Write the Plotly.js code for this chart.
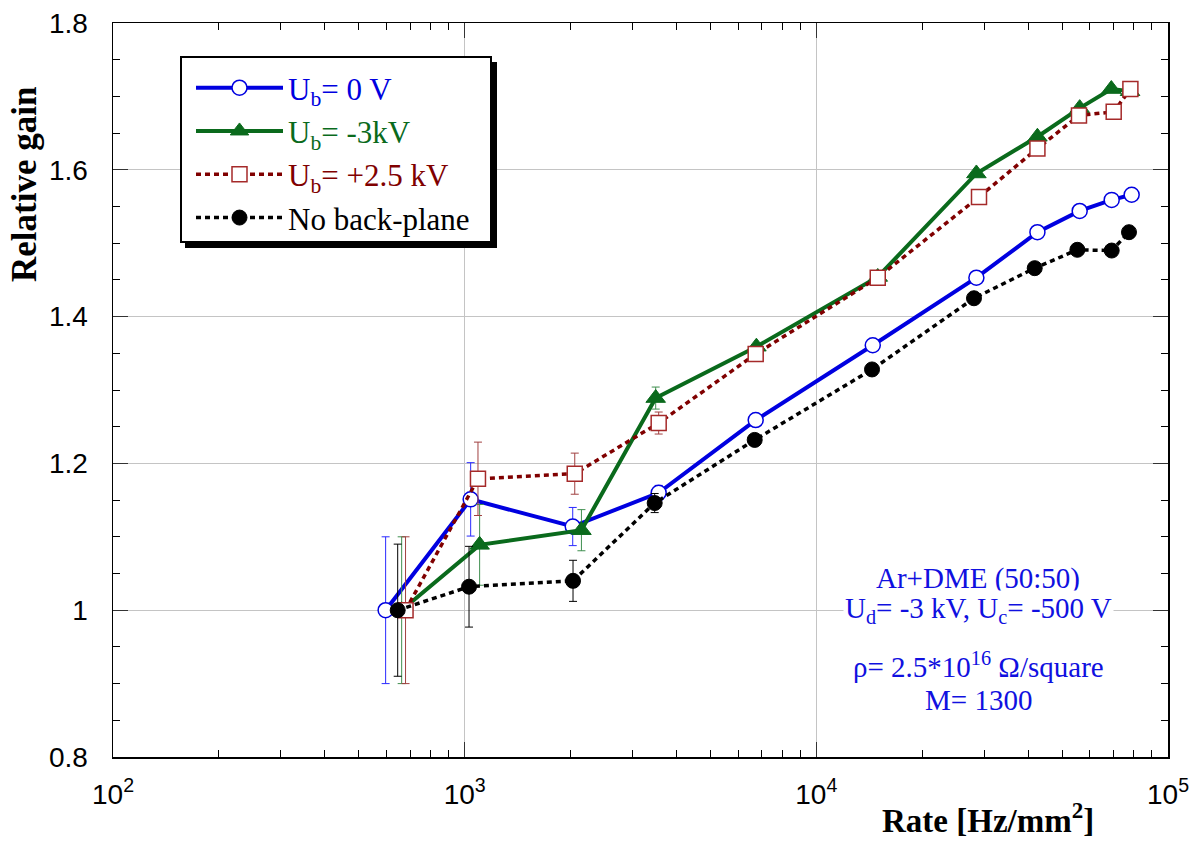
<!DOCTYPE html>
<html>
<head>
<meta charset="utf-8">
<script src="https://cdn.plot.ly/plotly-3.0.1.min.js"></script>
<style>html,body{margin:0;padding:0;background:#fff;}#chart{width:1204px;height:847px;}</style>
</head>
<body>
<div id="chart"></div>
<script>
// ---- data ----
const seriesNames = [
  'U<sub>b</sub>= 0 V',
  'U<sub>b</sub>= -3kV',
  'U<sub>b</sub>= +2.5 kV',
  'No back-plane'
];
const rateB0   = [596, 1040, 2029, 3562, 6723, 14470, 28520, 42530, 56090, 69170, 78830];
const gainB0   = [1.000, 1.151, 1.114, 1.160, 1.259, 1.361, 1.453, 1.515, 1.544, 1.559, 1.566];
const errB0    = [0.10, 0.05, 0.026, 0.01, 0, 0, 0, 0, 0, 0, 0];

const rateBm3  = [662, 1103, 2148, 3493, 6754, 14950, 28520, 42530, 56090, 69000, 78000];
const gainBm3  = [1.000, 1.089, 1.109, 1.289, 1.359, 1.454, 1.595, 1.645, 1.684, 1.710, 1.707];
const errBm3   = [0.10, 0.055, 0.028, 0.015, 0, 0, 0, 0, 0, 0, 0];

const rateBp25 = [679, 1091, 2056, 3562, 6723, 14950, 29010, 42530, 55830, 70080, 78170];
const gainBp25 = [1.000, 1.179, 1.186, 1.255, 1.349, 1.453, 1.563, 1.629, 1.674, 1.679, 1.710];
const errBp25  = [0.10, 0.05, 0.028, 0.015, 0, 0, 0, 0, 0, 0, 0];

const rateNoBP = [645, 1029, 2033, 3470, 6679, 14400, 28070, 41780, 55240, 69170, 77460];
const gainNoBP = [1.000, 1.032, 1.040, 1.146, 1.232, 1.328, 1.425, 1.466, 1.491, 1.490, 1.515];
const errNoBP  = [0.09, 0.055, 0.028, 0.013, 0, 0, 0, 0, 0, 0, 0];

const xTickVals  = [100, 1000, 10000, 100000];
const xTickText  = ['10<sup>2</sup>', '10<sup>3</sup>', '10<sup>4</sup>', '10<sup>5</sup>'];
const xMinorVals = [200,300,400,500,600,700,800,900,2000,3000,4000,5000,6000,7000,8000,9000,20000,30000,40000,50000,60000,70000,80000,90000];

const noteLines = [
  'Ar+DME (50:50)',
  'U<sub>d</sub>= -3 kV, U<sub>c</sub>= -500 V',
  'ρ= 2.5*10<sup>16</sup> Ω/square',
  'M= 1300'
];

// ---- styling ----
const BLUE = '#0000e0', GREEN = '#0a6a1c', RED = '#800000', REDM = '#a52a2a', BLACK = '#000000';
const serif = 'Liberation Serif, Times New Roman, serif';
const sans = 'Liberation Sans, Arial, sans-serif';

function lbl(txt, col) { return '<span style="color:' + col + '">' + txt + '</span>'; }

const traces = [
  {
    x: rateB0, y: gainB0, name: lbl(seriesNames[0], BLUE), type: 'scatter', mode: 'lines+markers',
    line: {color: BLUE, width: 4},
    marker: {symbol: 'circle', size: 15, color: '#ffffff', line: {color: BLUE, width: 1.5}},
    error_y: {type: 'data', array: errB0, visible: true, color: '#2a2aff', thickness: 1, width: 4}
  },
  {
    x: rateBm3, y: gainBm3, name: lbl(seriesNames[1], GREEN), type: 'scatter', mode: 'lines+markers',
    line: {color: GREEN, width: 4},
    marker: {symbol: 'triangle-up', size: 17, color: GREEN, line: {color: GREEN, width: 1}},
    error_y: {type: 'data', array: errBm3, visible: true, color: '#3f8f4f', thickness: 1, width: 4}
  },
  {
    x: rateBp25, y: gainBp25, name: lbl(seriesNames[2], RED), type: 'scatter', mode: 'lines+markers',
    line: {color: RED, width: 3.5, dash: '5px,4px'},
    marker: {symbol: 'square', size: 15, color: '#ffffff', line: {color: REDM, width: 1.5}},
    error_y: {type: 'data', array: errBp25, visible: true, color: '#a04040', thickness: 1, width: 4}
  },
  {
    x: rateNoBP, y: gainNoBP, name: lbl(seriesNames[3], BLACK), type: 'scatter', mode: 'lines+markers',
    line: {color: BLACK, width: 3.5, dash: '5px,4px'},
    marker: {symbol: 'circle', size: 15, color: BLACK, line: {color: BLACK, width: 1}},
    error_y: {type: 'data', array: errNoBP, visible: true, color: '#000000', thickness: 1, width: 4}
  }
];

// pixel -> paper helpers (plot area 113..1168 x, 23..757 y)
const L = 113, R = 1168, T = 23, B = 757;
const px = v => (v - L) / (R - L);
const py = v => (B - v) / (B - T);

const layout = {
  width: 1204, height: 847,
  margin: {l: L, r: 1204 - R, t: T, b: 847 - B, pad: 0},
  paper_bgcolor: '#ffffff', plot_bgcolor: '#ffffff',
  showlegend: true,
  xaxis: {
    type: 'log', range: [2, 5],
    tickmode: 'array', tickvals: xTickVals, ticktext: xTickText,
    ticks: 'inside', ticklen: 15, tickwidth: 1, tickcolor: '#333333',
    showline: true, linecolor: '#000000', linewidth: 1.5, mirror: 'ticks',
    showgrid: true, gridcolor: '#c4c4c4', gridwidth: 1, zeroline: false,
    tickfont: {family: sans, size: 28, color: '#000000'},
    ticklabelstandoff: 12,
    minor: {tickmode: 'array', tickvals: xMinorVals, ticks: 'inside', ticklen: 7, tickwidth: 1, tickcolor: '#000000', showgrid: false}
  },
  yaxis: {
    range: [0.8, 1.8], tick0: 0.8, dtick: 0.2,
    ticks: 'inside', ticklen: 15, tickwidth: 1, tickcolor: '#333333',
    showline: true, linecolor: '#000000', linewidth: 1.5, mirror: 'ticks',
    showgrid: true, gridcolor: '#c4c4c4', gridwidth: 1, zeroline: false,
    tickfont: {family: sans, size: 28, color: '#000000'},
    ticklabelstandoff: 18,
    minor: {tick0: 0.8, dtick: 0.05, ticks: 'inside', ticklen: 7, tickwidth: 1, tickcolor: '#000000', showgrid: false}
  },
  legend: {
    x: px(191), y: py(61), xanchor: 'left', yanchor: 'top',
    bgcolor: 'rgba(0,0,0,0)', borderwidth: 0,
    font: {family: serif, size: 31, color: '#000000'},
    itemwidth: 87, tracegroupgap: 0
  },
  shapes: [
    {type: 'rect', xref: 'paper', yref: 'paper', x0: px(185), x1: px(497), y0: py(62), y1: py(248),
     fillcolor: '#000000', line: {width: 0}, layer: 'above'},
    {type: 'rect', xref: 'paper', yref: 'paper', x0: px(181), x1: px(491), y0: py(57), y1: py(242),
     fillcolor: '#ffffff', line: {color: '#000000', width: 2}, layer: 'above'}
  ],
  annotations: [
    {text: '<b>Relative gain</b>', xref: 'paper', yref: 'paper', x: px(24), y: py(185),
     xanchor: 'center', yanchor: 'middle', textangle: -90, showarrow: false,
     font: {family: serif, size: 35, color: '#000000'}},
    {text: '<b>Rate [Hz/mm<sup>2</sup>]</b>', xref: 'paper', yref: 'paper', x: px(988), y: py(818),
     xanchor: 'center', yanchor: 'middle', showarrow: false,
     font: {family: serif, size: 33, color: '#000000'}},
    {text: noteLines[0], xref: 'paper', yref: 'paper', x: px(978), y: py(578),
     xanchor: 'center', yanchor: 'middle', showarrow: false,
     font: {family: serif, size: 29, color: '#1010e0'}},
    {text: noteLines[1], xref: 'paper', yref: 'paper', x: px(978), y: py(610),
     xanchor: 'center', yanchor: 'middle', showarrow: false, bgcolor: '#ffffff',
     font: {family: serif, size: 29, color: '#1010e0'}},
    {text: noteLines[2], xref: 'paper', yref: 'paper', x: px(978), y: py(665),
     xanchor: 'center', yanchor: 'middle', showarrow: false,
     font: {family: serif, size: 29, color: '#1010e0'}},
    {text: noteLines[3], xref: 'paper', yref: 'paper', x: px(978), y: py(700),
     xanchor: 'center', yanchor: 'middle', showarrow: false,
     font: {family: serif, size: 29, color: '#1010e0'}}
  ]
};

Plotly.newPlot('chart', traces, layout, {displayModeBar: false, staticPlot: true});
</script>
</body>
</html>
